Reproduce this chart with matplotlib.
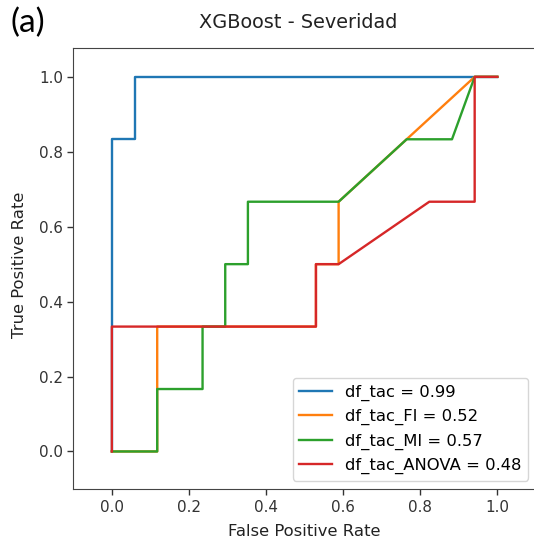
import matplotlib
matplotlib.use("Agg")
import matplotlib.pyplot as plt

# ROC curve data (17 negatives, 6 positives)
fpr_tac = [0, 0, 1/17, 1/17, 1]
tpr_tac = [0, 5/6, 5/6, 1, 1]

fpr_fi = [0, 2/17, 2/17, 2/17, 9/17, 9/17, 10/17, 10/17, 16/17, 1]
tpr_fi = [0, 0, 1/6, 1/3, 1/3, 1/2, 1/2, 2/3, 1, 1]

fpr_mi = [0, 2/17, 2/17, 4/17, 4/17, 5/17, 5/17, 6/17, 6/17, 10/17, 13/17, 15/17, 16/17, 1]
tpr_mi = [0, 0, 1/6, 1/6, 1/3, 1/3, 1/2, 1/2, 2/3, 2/3, 5/6, 5/6, 1, 1]

fpr_anova = [0, 0, 9/17, 9/17, 10/17, 14/17, 16/17, 16/17, 1]
tpr_anova = [0, 1/3, 1/3, 1/2, 1/2, 2/3, 2/3, 1, 1]

labels = ["df_tac = 0.99", "df_tac_FI = 0.52", "df_tac_MI = 0.57", "df_tac_ANOVA = 0.48"]
colors = ["#1f77b4", "#ff7f0e", "#2ca02c", "#d62728"]

W, H = 534, 544
fig = plt.figure(figsize=(W/100, H/100), dpi=100)
AXW = 468
ax = fig.add_axes([73.3/W, (H-489.3)/H, AXW/W, 441.3/H])

fs = 10.9
lfs = 11.8
for (x, y), lab, c in zip([(fpr_tac, tpr_tac), (fpr_fi, tpr_fi), (fpr_mi, tpr_mi), (fpr_anova, tpr_anova)], labels, colors):
    ax.plot(x, y, color=c, lw=1.7, label=lab)

ax.set_xlim(-0.1, -0.1 + AXW / 385.5)
ax.set_ylim(-0.101, 1.077)
ax.set_xticks([0, 0.2, 0.4, 0.6, 0.8, 1.0])
ax.set_yticks([0, 0.2, 0.4, 0.6, 0.8, 1.0])
ax.tick_params(labelsize=fs, colors="#333333", width=1.0, length=4)
for s in ax.spines.values():
    s.set_color("#444444")
ax.spines["right"].set_visible(False)
ax.set_xlabel("False Positive Rate", fontsize=lfs, color="#222222")
ax.xaxis.set_label_coords((304 - 73.3) / AXW, (489.3 - 524) / 441.3)
ax.set_ylabel("True Positive Rate", fontsize=lfs, color="#222222")
ax.yaxis.set_label_coords((27 - 73.3) / AXW, (489.3 - 265) / 441.3)
fig.text(298.5/W, 1 - 28/H, "XGBoost - Severidad", fontsize=13.9, color="#222222",
         ha="center", va="baseline")
ax.legend(loc="lower right", fontsize=lfs, bbox_to_anchor=(528.3/W, (H-480.7)/H),
          bbox_transform=fig.transFigure, borderaxespad=0)

fig.text(11/W, 1 - 23/H, "(a)", fontsize=24, family="Lato", va="center", ha="left")

fig.savefig("out.png", dpi=100)
